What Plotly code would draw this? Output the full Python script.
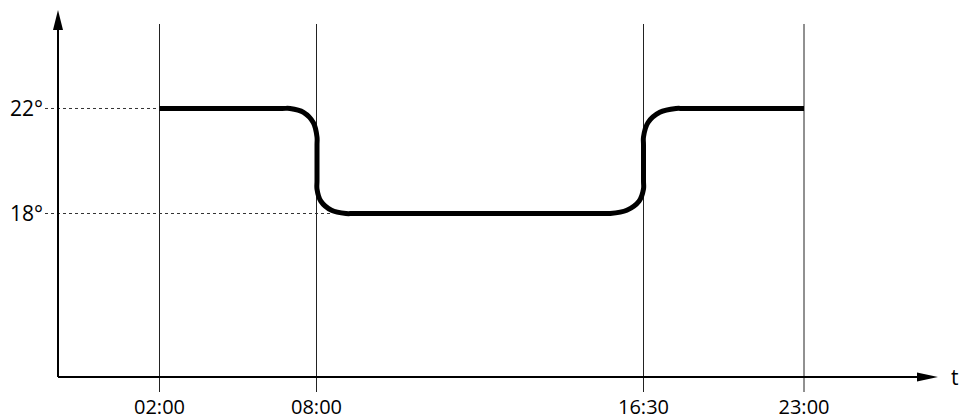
import plotly.graph_objects as go

# ---------------- data ----------------
tick_labels = ["02:00", "08:00", "16:30", "23:00"]
tick_pos = [159.5, 316.5, 643.5, 804]          # schematic positions on the time axis
level_labels = ["22°", "18°"]
levels = [22, 18]
# key points of the setpoint profile (schematic time, temperature)
curve_x = [159.5, 282, 290, 303.5, 313.4, 317, 317, 317, 317, 320.9, 331.5, 346, 354,
           602, 610, 626.8, 639.0, 643.5, 643.5, 643.5, 643.5, 647.9, 659.8, 676, 684, 804]
curve_y = [22, 22, 22, 21.854, 21.457, 20.914, 20.610, 19.238, 18.933, 18.467, 18.125, 18, 18,
           18, 18, 18.125, 18.467, 18.933, 19.238, 20.610, 20.914, 21.457, 21.854, 22, 22, 22]

# ---------------- layout constants ----------------
X_RANGE = [45, 960]
Y_RANGE = [11.162, 26.133]
AX_X0 = 58          # y-axis position (time units)
AX_Y0 = 11.771      # x-axis position (temperature units)
Y_TIP = 25.752
X_TIP = 938
V_TOP = 25.219
V_BOT = 11.2
FONT = "Open Sans"

fig = go.Figure()

fig.add_trace(go.Scatter(
    x=curve_x, y=curve_y, mode="lines",
    line=dict(color="black", width=5, shape="spline", smoothing=1),
    hoverinfo="skip", showlegend=False,
))

shapes = []
# vertical time lines
for xp in tick_pos:
    shapes.append(dict(type="line", xref="x", yref="y", x0=xp, x1=xp, y0=V_BOT, y1=V_TOP,
                       line=dict(color="#222", width=1), layer="below"))
# dashed level guides
ends = [tick_pos[0], 330]
for lv, xe in zip(levels, ends):
    shapes.append(dict(type="line", xref="x", yref="y", x0=X_RANGE[0], x1=xe, y0=lv, y1=lv,
                       line=dict(color="#333", width=1, dash="3px,3px"), layer="below"))
# axes
shapes.append(dict(type="line", xref="x", yref="y", x0=AX_X0, x1=AX_X0, y0=AX_Y0, y1=Y_TIP - 0.4,
                   line=dict(color="black", width=2)))
shapes.append(dict(type="line", xref="x", yref="y", x0=AX_X0, x1=X_TIP - 10, y0=AX_Y0, y1=AX_Y0,
                   line=dict(color="black", width=2)))
# arrowheads
shapes.append(dict(type="path", xref="x", yref="y", xsizemode="pixel", ysizemode="pixel",
                   xanchor=AX_X0, yanchor=Y_TIP, path="M0,0 L-5,-20 L5,-20 Z",
                   fillcolor="black", line=dict(color="black", width=0)))
shapes.append(dict(type="path", xref="x", yref="y", xsizemode="pixel", ysizemode="pixel",
                   xanchor=X_TIP, yanchor=AX_Y0, path="M0,0 L-21,4.5 L-21,-4.5 Z",
                   fillcolor="black", line=dict(color="black", width=0)))

fig.update_layout(
    width=960, height=419,
    margin=dict(l=45, r=0, t=0, b=26, autoexpand=False),
    paper_bgcolor="white", plot_bgcolor="white",
    font=dict(family=FONT, size=20, color="black"),
    showlegend=False,
    shapes=shapes,
    annotations=[dict(x=955, y=AX_Y0, xref="x", yref="y", text="t", showarrow=False,
                      font=dict(family=FONT, size=21, color="black"))],
    xaxis=dict(range=X_RANGE, tickvals=tick_pos, ticktext=tick_labels, ticks="",
               showgrid=False, zeroline=False, showline=False, fixedrange=True,
               automargin=False, ticklabelstandoff=0,
               tickfont=dict(family=FONT, size=20, color="black")),
    yaxis=dict(range=Y_RANGE, tickvals=levels, ticktext=level_labels, ticks="",
               showgrid=False, zeroline=False, showline=False, fixedrange=True,
               automargin=False, ticklabelstandoff=1,
               tickfont=dict(family=FONT, size=21, color="black")),
)

fig.write_html("out.html", config={"displayModeBar": False},
               post_script="document.body.style.margin='0';document.body.style.overflow='hidden';")
